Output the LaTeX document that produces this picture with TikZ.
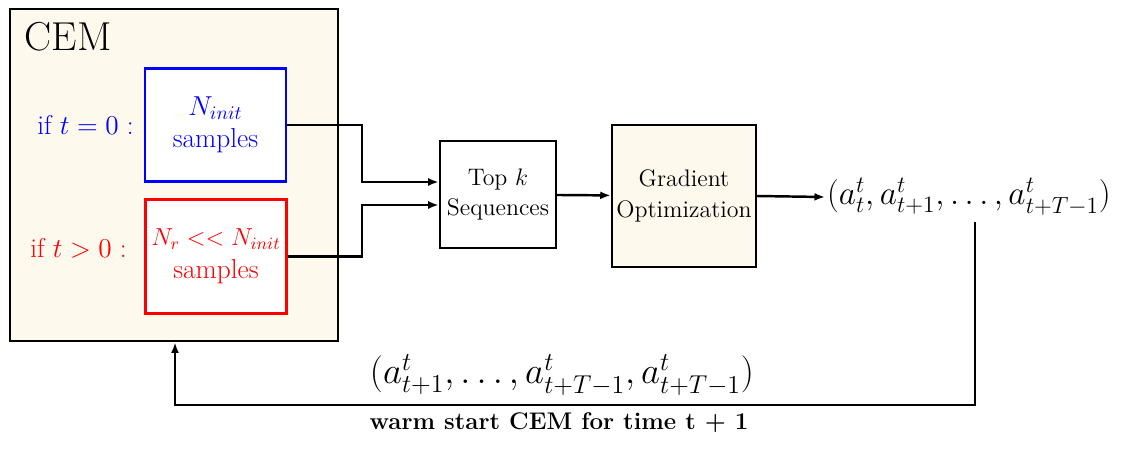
\documentclass[tikz,border=0pt]{standalone}
\usepackage{fix-cm}
\usepackage{amsmath, amssymb}
\usepackage{tikz}
\usetikzlibrary{arrows.meta, positioning}
\definecolor{cemcream}{RGB}{254, 249, 237}

\begin{document}
\begin{tikzpicture}[
    outer/.style={
      rectangle,
      draw=black,
      line width=1.5pt,
      fill=cemcream,
      minimum width=6.56cm,
      minimum height=6.64cm
    },
    sample/.style={
      rectangle,
      line width=1.5pt,
      fill=white,
      minimum width=2.82cm,
      minimum height=2.27cm,
      align=center,
      font=\fontsize{15.6}{18.5}\selectfont
    },
    stage/.style={
      rectangle,
      draw=black,
      line width=1.4pt,
      align=center,
      inner sep=2pt,
      font=\fontsize{13.6}{17.5}\selectfont
    },
    arrow/.style={
      -{Latex[length=6pt,width=4.5pt]},
      line width=1.4pt
    }
  ]
    \useasboundingbox (0,0) rectangle (22.46,9.02);

    % CEM block
    \node[outer] (cem) at (3.48,5.52) {};
    \node[font=\fontsize{23}{27}\selectfont] (cemlbl) at (1.36,8.28) {CEM};

    \node[sample, draw=blue, text=blue] (init) at (4.31,6.52) {$N_{init}$\\samples};
    \node[sample, draw=red, text=red] (reuse) at (4.32,3.89) {{\fontsize{14}{17}\selectfont$N_r << N_{init}$}\\samples};
    \node[anchor=east, blue, font=\fontsize{15.5}{18}\selectfont] (ifzero) at (2.8,6.52) {if $t=0$ :};
    \node[anchor=east, red, font=\fontsize{15.5}{18}\selectfont] (ifpos) at (2.66,4.06) {if $t>0$ :};

    % Pipeline
    \node[stage, minimum width=2.32cm, minimum height=2.14cm] (topk) at (9.96,5.13) {Top $k$\\Sequences};
    \node[stage, fill=cemcream, minimum width=2.88cm, minimum height=2.84cm] (grad) at (13.68,5.10) {Gradient\\Optimization};
    \node[anchor=west, inner sep=1pt, font=\fontsize{19}{22}\selectfont] (plan) at (16.5,5.08) {$(a^t_t, a^t_{t+1}, \ldots, a^t_{t+T-1})$};

    % Feedback labels
    \node[font=\fontsize{21}{25}\selectfont] (shifted) at (11.24,1.52) {$(a^t_{t+1}, \ldots, a^t_{t+T-1}, a^t_{t+T-1})$};
    \node[font=\bfseries\fontsize{13.7}{17}\selectfont] (warm) at (11.18,0.56) {warm start CEM for time t + 1};

    \coordinate (fbtop) at (19.5,4.58);
    \coordinate (fbright) at (19.5,0.92);
    \coordinate (fbleft) at (3.5,0.92);

    % Connections
    \draw[arrow] (init.east) -- (7.24,6.52) -- (7.24,5.38) -- (topk.west |- 0,5.38);
    \draw[arrow] (reuse.east) -- (7.24,3.89) -- (7.24,4.92) -- (topk.west |- 0,4.92);
    \draw[arrow] (topk) -- (grad);
    \draw[arrow] (grad.east) -- (plan.west);
    \draw[arrow] (fbtop) -- (fbright) -- (fbleft) -- (cem.south -| fbleft);

\end{tikzpicture}
\end{document}
